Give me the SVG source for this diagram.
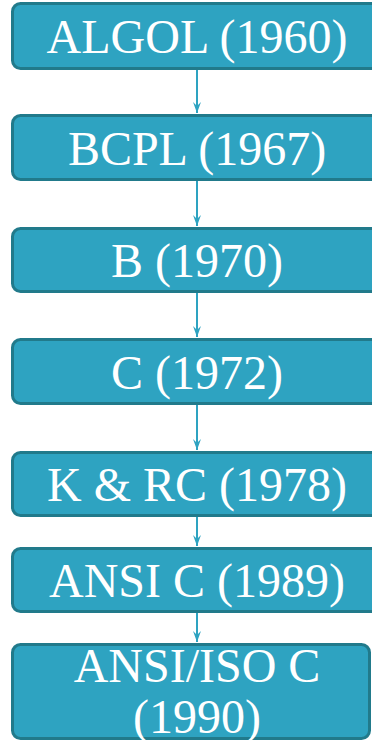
<svg xmlns="http://www.w3.org/2000/svg" width="372" height="740" viewBox="0 0 372 740">
  <defs>
    <style>
      .box { fill: #2ea3c1; stroke: #217a8b; stroke-width: 3; }
      .label { font-family: "Liberation Serif", "Times New Roman", serif; font-size: 48px; fill: #ffffff; text-anchor: middle; }
      .link { stroke: #2ea3c1; stroke-width: 2; fill: none; }
      .head { fill: #2ea3c1; }
    </style>
    <!-- notched arrowhead, tip at the line end -->
    <marker id="arrow" viewBox="-12 -5 12 10" refX="0" refY="0" markerWidth="12" markerHeight="10" markerUnits="userSpaceOnUse" orient="auto">
      <path class="head" d="M-11,-4 L0,0 L-11,4 L-7,0 Z"/>
    </marker>
  </defs>

  <g id="connectors">
    <line class="link" x1="197" y1="70" x2="197" y2="113" marker-end="url(#arrow)"/>
    <line class="link" x1="197" y1="181" x2="197" y2="226" marker-end="url(#arrow)"/>
    <line class="link" x1="197" y1="293" x2="197" y2="337" marker-end="url(#arrow)"/>
    <line class="link" x1="197" y1="405" x2="197" y2="450" marker-end="url(#arrow)"/>
    <line class="link" x1="197" y1="517" x2="197" y2="546" marker-end="url(#arrow)"/>
    <line class="link" x1="197" y1="613" x2="197" y2="642" marker-end="url(#arrow)"/>
  </g>

  <g id="algol">
    <rect class="box" x="12.5" y="3.5" width="372" height="65" rx="8"/>
    <text class="label" x="197" y="53">ALGOL (1960)</text>
  </g>
  <g id="bcpl">
    <rect class="box" x="12.5" y="115.5" width="372" height="64" rx="8"/>
    <text class="label" x="197" y="165">BCPL (1967)</text>
  </g>
  <g id="b">
    <rect class="box" x="12.5" y="228.5" width="372" height="63" rx="8"/>
    <text class="label" x="197" y="277">B (1970)</text>
  </g>
  <g id="c">
    <rect class="box" x="12.5" y="339.5" width="372" height="64" rx="8"/>
    <text class="label" x="197" y="389">C (1972)</text>
  </g>
  <g id="knr">
    <rect class="box" x="12.5" y="452.5" width="372" height="63" rx="8"/>
    <text class="label" x="197" y="501">K &amp; RC (1978)</text>
  </g>
  <g id="ansi">
    <rect class="box" x="12.5" y="548.5" width="372" height="63" rx="8"/>
    <text class="label" x="197" y="597">ANSI C (1989)</text>
  </g>
  <g id="ansi-iso">
    <rect class="box" x="12.5" y="644.5" width="357" height="94" rx="8"/>
    <text class="label" x="197" y="682">ANSI/ISO C</text>
    <text class="label" x="197" y="733">(1990)</text>
  </g>
</svg>
